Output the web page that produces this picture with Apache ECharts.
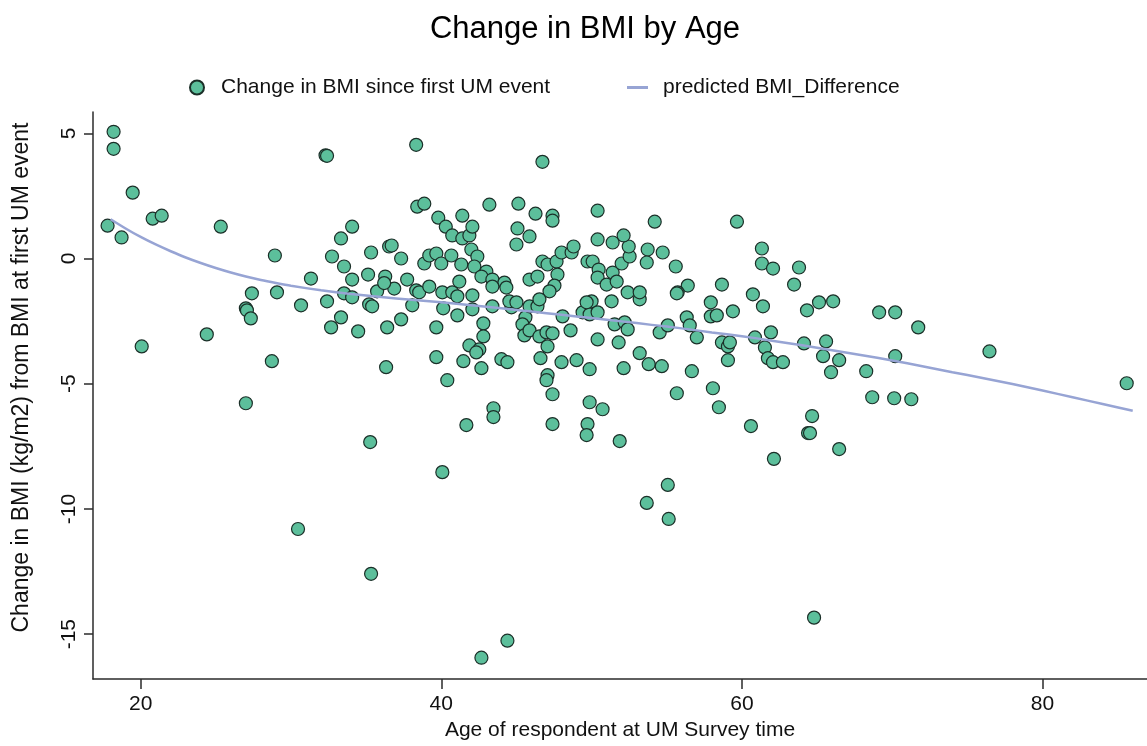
<!DOCTYPE html>
<html>
<head>
<meta charset="utf-8">
<script src="https://cdn.jsdelivr.net/npm/echarts@6/dist/echarts.min.js"></script>
<style>html,body{margin:0;padding:0;background:#fff}#c{width:1147px;height:746px}</style>
</head>
<body>
<div id="c"></div>
<script>
const ages = [
18.2,18.2,19.47,17.8,18.73,20.8,21.4,25.33,32.3,32.4,38.33,38.4,38.87,39.8,40.3,34.07,33.33,28.93,32.73,35.33,
36.53,36.7,37.33,33.53,34.07,35.13,36.27,37.73,38.87,39.2,39.67,40.0,31.33,27.4,29.07,33.53,34.07,35.73,36.87,38.33,
38.53,39.2,40.07,27.0,30.67,32.4,35.2,35.4,38.07,40.13,36.2,
27.07,27.33,33.33,32.67,34.47,36.4,37.33,39.67,24.4,20.07,28.73,36.33,39.67,40.4,27.0,35.27,40.07,
30.47,35.33,53.67,55.13,55.07,44.4,42.67,64.8,
64.33,65.13,66.07,69.13,70.2,71.73,64.13,65.6,65.4,66.47,65.93,68.27,70.2,76.47,85.6,68.67,70.13,71.27,64.67,64.4,64.53,66.47,
63.8,63.47,
41.07,42.07,43.4,44.67,44.53,45.0,45.6,45.87,46.4,45.4,45.53,45.87,46.53,47.0,47.4,47.07,48.07,48.6,49.4,49.87,
50.0,49.67,50.4,51.33,51.53,52.2,52.4,53.2,54.53,55.07,56.33,56.53,57.0,57.93,57.93,58.33,59.4,61.4,61.93,60.87,
61.53,61.73,62.07,62.73,58.67,59.07,59.2,59.07,42.8,42.8,41.87,42.53,42.33,41.47,42.67,44.0,44.4,46.6,48.0,49.0,
49.87,50.4,51.8,52.13,53.2,53.8,54.67,56.67,47.07,47.0,47.4,49.87,50.73,55.67,58.07,58.47,43.47,43.47,41.67,47.4,
49.73,49.67,51.87,60.6,62.13,
46.73,43.2,45.13,46.27,47.4,47.4,50.4,54.2,59.67,41.4,40.73,41.4,41.87,42.07,45.07,45.87,45.0,40.67,41.33,42.0,
42.4,42.2,43.0,42.67,43.4,44.2,44.33,43.4,41.2,40.73,41.07,42.07,46.73,47.07,47.67,48.0,48.67,48.8,47.73,47.53,
47.2,45.87,46.4,46.53,49.73,50.07,50.47,50.4,51.0,51.4,51.67,52.0,52.53,52.47,52.13,51.4,50.4,52.4,53.2,53.73,
54.73,53.67,55.6,56.4,55.73,55.67,58.67,60.73,61.33,61.33,62.07
];
const bmiChange = [
5.06,4.38,2.63,1.31,0.84,1.59,1.71,1.27,4.12,4.1,4.54,2.07,2.19,1.63,1.27,1.27,0.8,0.12,0.08,0.24,
0.48,0.52,0.0,-0.32,-0.84,-0.64,-0.72,-0.84,-0.2,0.12,0.2,-0.2,-0.8,-1.39,-1.35,-1.39,-1.55,-1.31,-1.2,-1.27,
-1.35,-1.12,-1.35,-1.99,-1.87,-1.71,-1.83,-1.91,-1.87,-1.99,-0.98,
-2.07,-2.39,-2.35,-2.75,-2.91,-2.75,-2.43,-2.75,-3.03,-3.51,-4.1,-4.34,-3.94,-4.86,-5.78,-7.33,-8.53,
-10.8,-12.59,-9.76,-10.4,-9.04,-15.26,-15.94,-14.34,
-2.07,-1.75,-1.71,-2.15,-2.15,-2.75,-3.39,-3.31,-3.9,-4.06,-4.54,-4.5,-3.9,-3.71,-4.98,-5.54,-5.58,-5.62,-6.29,-6.97,-6.97,-7.61,
-0.36,-1.04,
-2.27,-2.03,-1.91,-1.95,-1.71,-1.75,-2.35,-1.91,-1.91,-2.63,-3.07,-2.87,-3.11,-2.95,-2.99,-3.51,-2.31,-2.87,-2.15,-2.23,
-1.71,-1.75,-2.15,-1.71,-2.63,-2.55,-2.83,-1.63,-2.95,-2.67,-2.35,-2.67,-3.15,-1.75,-2.31,-2.27,-2.11,-1.91,-2.95,-3.15,
-3.55,-3.98,-4.14,-4.14,-3.35,-3.51,-3.35,-4.06,-2.59,-3.11,-3.47,-3.63,-3.75,-4.1,-4.38,-4.02,-4.14,-3.98,-4.14,-4.06,
-4.42,-3.23,-3.35,-4.38,-3.78,-4.22,-4.3,-4.5,-4.66,-4.86,-5.42,-5.74,-6.02,-5.38,-5.18,-5.94,-5.98,-6.33,-6.65,-6.61,
-6.61,-7.05,-7.29,-6.69,-8.0,
3.86,2.15,2.19,1.79,1.71,1.51,1.91,1.47,1.47,1.71,0.92,0.8,0.92,1.27,1.2,0.88,0.56,0.12,-0.24,0.36,
0.08,-0.32,-0.52,-0.72,-0.84,-0.96,-1.16,-1.12,-0.92,-1.35,-1.51,-1.47,-0.12,-0.24,-0.12,0.24,0.24,0.48,-0.64,-1.08,
-1.31,-0.84,-0.72,-1.63,-0.12,-0.12,-0.44,-0.76,-1.04,-0.56,-0.92,-0.2,0.08,0.48,0.92,0.64,0.76,-1.35,-1.35,0.36,
0.24,-0.16,-0.32,-1.08,-1.35,-1.39,-1.04,-1.43,0.4,-0.2,-0.4
];
const fitAge = [18,19,20,21,22,23,24,25,26,27,28,29,30,32,34,36,38,40,42,44,46,48,50,52,54,56,58,60,62,64,66,68,70,72,74,76,78,80,82,84,86];
const fitBmi = [1.57,1.2,0.86,0.56,0.29,0.04,-0.18,-0.38,-0.56,-0.72,-0.86,-0.98,-1.09,-1.27,-1.42,-1.54,-1.65,-1.75,-1.87,-1.99,-2.12,-2.25,-2.38,-2.51,-2.65,-2.79,-2.95,-3.1,-3.28,-3.46,-3.66,-3.86,-4.07,-4.3,-4.54,-4.77,-5.01,-5.27,-5.54,-5.81,-6.08];
const xTicks = [20,40,60,80];
const yTicks = [-15,-10,-5,0,5];
const titleText = 'Change in BMI by Age';
const scatterName = 'Change in BMI since first UM event';
const lineName = 'predicted BMI_Difference';
const xName = 'Age of respondent at UM Survey time';
const yName = 'Change in BMI (kg/m2) from BMI at first UM event';

const X_MIN = 16.83, X_MAX = 86.95, Y_MIN = -16.79, Y_MAX = 5.85;
const FONT = 'Liberation Sans, Arial, Helvetica, sans-serif';
const LINE_COLOR = '#97a4d4';
const AXIS_COLOR = '#2b2b2b';
const chart = echarts.init(document.getElementById('c'), null, {renderer:'canvas'});
chart.setOption({
  animation:false,
  backgroundColor:'#ffffff',
  title:{text:titleText,left:580,top:9,textAlign:'center',textStyle:{fontFamily:FONT,fontSize:31,fontWeight:'normal',color:'#000'}},
  legend:[
    {data:[scatterName],left:184,top:72,itemWidth:14,itemHeight:14,textStyle:{fontFamily:FONT,fontSize:21,color:'#111',padding:[0,0,0,12]}},
    {data:[{name:lineName,icon:'rect',itemStyle:{color:LINE_COLOR}}],left:622,top:72,itemWidth:21,itemHeight:3,textStyle:{fontFamily:FONT,fontSize:21,color:'#111',padding:[0,0,0,10]}}
  ],
  grid:{left:93,right:0,top:112,bottom:65,containLabel:false},
  xAxis:{type:'value',min:X_MIN,max:X_MAX,name:xName,nameLocation:'middle',nameGap:41,
    nameTextStyle:{fontFamily:FONT,fontSize:21,color:'#111'},
    axisLine:{show:true,onZero:false,lineStyle:{color:AXIS_COLOR,width:1.5}},
    axisTick:{show:true,length:10,customValues:xTicks,lineStyle:{color:AXIS_COLOR,width:1.5}},
    axisLabel:{customValues:xTicks,margin:15,fontFamily:FONT,fontSize:21,color:'#111'},
    splitLine:{show:false}},
  yAxis:{type:'value',min:Y_MIN,max:Y_MAX,name:yName,nameLocation:'middle',nameGap:60,nameRotate:90,
    nameTextStyle:{fontFamily:FONT,fontSize:23,color:'#111',padding:[0,0,0,36]},
    axisLine:{show:true,onZero:false,lineStyle:{color:AXIS_COLOR,width:1.5}},
    axisTick:{show:true,length:9,customValues:yTicks,lineStyle:{color:AXIS_COLOR,width:1.5}},
    axisLabel:{customValues:yTicks,rotate:90,margin:13,fontFamily:FONT,fontSize:21,color:'#111'},
    splitLine:{show:false}},
  series:[
    {name:scatterName,type:'scatter',symbol:'circle',symbolSize:13,
     data:ages.map((a,i)=>[a,bmiChange[i]]),
     itemStyle:{color:'#5cbf9b',borderColor:'#1b2f28',borderWidth:1.2,opacity:1}},
    {name:lineName,type:'line',symbol:'none',smooth:0.2,
     data:fitAge.map((a,i)=>[a,fitBmi[i]]),
     lineStyle:{color:LINE_COLOR,width:2.5},itemStyle:{color:LINE_COLOR},z:3}
  ]
});
</script>
</body>
</html>
